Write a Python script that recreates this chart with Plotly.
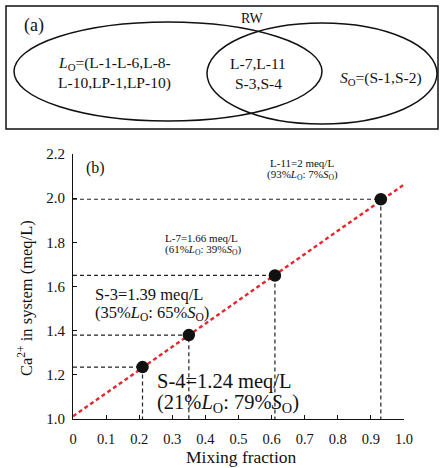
import plotly.graph_objects as go

# Data
samples = ["S-4", "S-3", "L-7", "L-11"]
mix_frac = [0.21, 0.35, 0.61, 0.93]
ca_conc = [1.24, 1.39, 1.66, 2.00]
ca_point_y = [1.235, 1.38, 1.65, 1.995]
lo_pct = [21, 35, 61, 93]
so_pct = [79, 65, 39, 7]
fit_x = [0.0, 1.0]
fit_y = [1.012, 2.062]
x_ticks = [0, 0.1, 0.2, 0.3, 0.4, 0.5, 0.6, 0.7, 0.8, 0.9, 1.0]
x_ticklabels = ["0", "0.1", "0.2", "0.3", "0.4", "0.5", "0.6", "0.7", "0.8", "0.9", "1.0"]
y_ticks = [1.0, 1.2, 1.4, 1.6, 1.8, 2.0, 2.2]
y_ticklabels = ["1.0", "1.2", "1.4", "1.6", "1.8", "2.0", "2.2"]

W, H = 440, 468
FONT = "Liberation Serif, Times New Roman, serif"

def px(x):
    return x / W

def py(y):
    return (H - y) / H

fig = go.Figure()

# dashed guide lines
for x, y in zip(mix_frac, ca_point_y):
    fig.add_trace(go.Scatter(x=[0, x, x], y=[y, y, 1.0], mode="lines",
                             line=dict(color="#222", width=1.2, dash="4px,3px"),
                             hoverinfo="skip", showlegend=False))

# red fit line
fig.add_trace(go.Scatter(x=fit_x, y=fit_y, mode="lines",
                         line=dict(color="#e8262a", width=2.4, dash="4px,3px"),
                         showlegend=False))

# points
fig.add_trace(go.Scatter(x=mix_frac, y=ca_point_y, mode="markers",
                         marker=dict(color="#111", size=12.5),
                         showlegend=False))

LO = "<i>L</i><sub>O</sub>"
SO = "<i>S</i><sub>O</sub>"

ann = []
def label(i):
    return f"{samples[i]}={ca_conc[i]:g} meq/L"
def pct(i):
    return f"({lo_pct[i]}%{LO}: {so_pct[i]}%{SO})"

# panel b annotations (paper coords)
ann.append(dict(x=px(95), y=py(168), text="(b)", font=dict(size=16)))
ann.append(dict(x=px(302), y=py(163), text=label(3), font=dict(size=11)))
ann.append(dict(x=px(302), y=py(175), text=pct(3), font=dict(size=11)))
ann.append(dict(x=px(163), y=py(238), text=label(2), font=dict(size=11), xanchor="left"))
ann.append(dict(x=px(163), y=py(250), text=pct(2), font=dict(size=11), xanchor="left"))
ann.append(dict(x=px(93), y=py(294.5), text=label(1), font=dict(size=16.5), xanchor="left"))
ann.append(dict(x=px(93), y=py(312.5), text=pct(1), font=dict(size=16.5), xanchor="left"))
ann.append(dict(x=px(155), y=py(381), text=label(0), font=dict(size=20.5), xanchor="left"))
ann.append(dict(x=px(155), y=py(403), text=pct(0), font=dict(size=20.5), xanchor="left"))

# axis titles as annotations
ann.append(dict(x=px(241), y=py(456.5), text="Mixing fraction", font=dict(size=17.5)))
ann.append(dict(x=px(25), y=py(298), text="Ca<sup>2+</sup> in system (meq/L)",
                font=dict(size=16.5), textangle=-90))

# panel a annotations
ann.append(dict(x=px(34), y=py(25), text="(a)", font=dict(size=18)))
ann.append(dict(x=px(252), y=py(19), text="RW", font=dict(size=14)))
ann.append(dict(x=px(56), y=py(64), text=f"{LO}=(L-1-L-6,L-8-", font=dict(size=15.5), xanchor="left"))
ann.append(dict(x=px(56), y=py(83), text="L-10,LP-1,LP-10)", font=dict(size=15.5), xanchor="left"))
ann.append(dict(x=px(258), y=py(64), text="L-7,L-11", font=dict(size=15.5)))
ann.append(dict(x=px(258), y=py(83), text="S-3,S-4", font=dict(size=15.5)))
ann.append(dict(x=px(381), y=py(79), text=f"{SO}=(S-1,S-2)", font=dict(size=15.5)))

for a in ann:
    a.update(xref="paper", yref="paper", showarrow=False)
    a.setdefault("xanchor", "center")
    a.setdefault("yanchor", "middle")
    a["font"].update(family=FONT, color="#111")

shapes = [
    dict(type="rect", xref="paper", yref="paper", x0=px(6), x1=px(438), y0=py(129), y1=py(6),
         line=dict(color="#111", width=1.5)),
    dict(type="circle", xref="paper", yref="paper", x0=px(14), x1=px(322), y0=py(121), y1=py(22),
         line=dict(color="#111", width=1.5)),
    dict(type="circle", xref="paper", yref="paper", x0=px(207), x1=px(437), y0=py(124), y1=py(23),
         line=dict(color="#111", width=1.5)),
]

fig.update_layout(
    width=W, height=H, margin=dict(l=0, r=0, t=0, b=0, autoexpand=False),
    paper_bgcolor="white", plot_bgcolor="white",
    font=dict(family=FONT, size=15, color="#111"),
    annotations=ann, shapes=shapes, showlegend=False,
    xaxis=dict(domain=[px(73), px(404)], range=[0, 1.0], tickvals=x_ticks, ticktext=x_ticklabels,
               showgrid=False, zeroline=False, showline=True, linecolor="#111", linewidth=1.2,
               ticks="inside", ticklen=4, tickcolor="#111", ticklabelstandoff=6,
               tickfont=dict(size=14.5), automargin=False),
    yaxis=dict(domain=[py(419), py(154)], range=[1.0, 2.2], tickvals=y_ticks, ticktext=y_ticklabels,
               showgrid=False, zeroline=False, showline=True, linecolor="#111", linewidth=1.2,
               ticks="inside", ticklen=4, tickcolor="#111", ticklabelstandoff=4,
               tickfont=dict(size=15), automargin=False),
)

fig.write_html("out.html")
